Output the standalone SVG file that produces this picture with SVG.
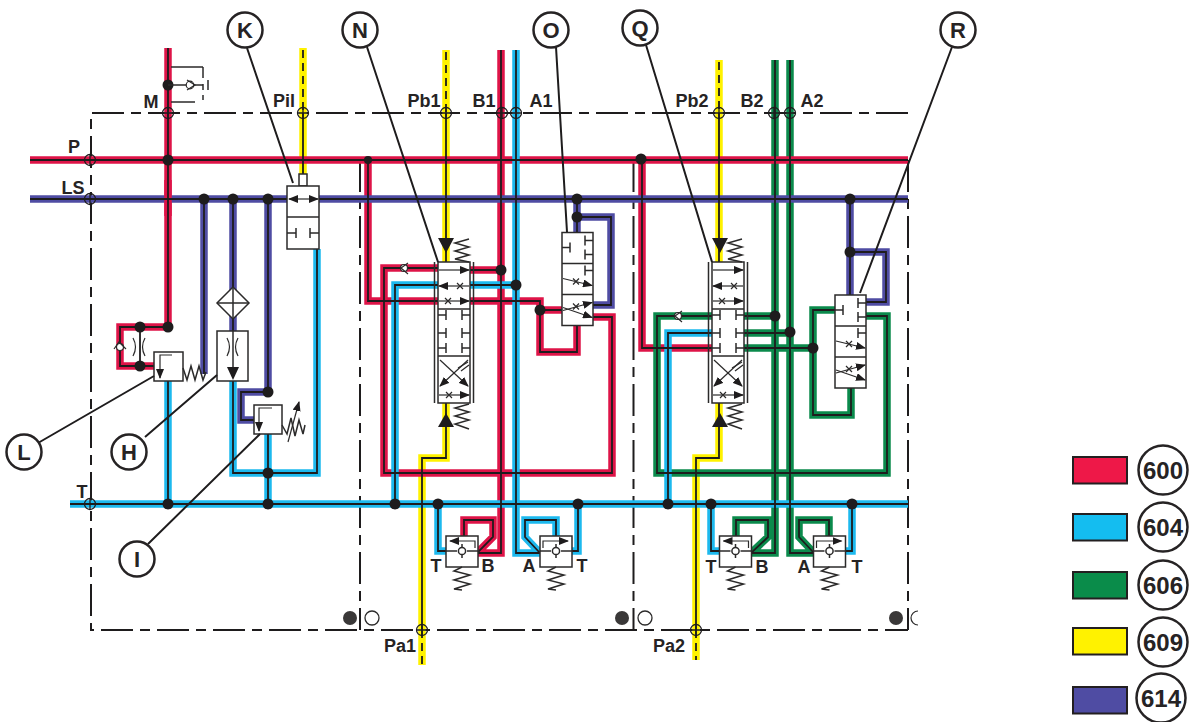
<svg xmlns="http://www.w3.org/2000/svg" xmlns:xlink="http://www.w3.org/1999/xlink" width="1190" height="722" viewBox="0 0 1190 722">
<style>
text{font-family:"Liberation Sans",Arial,sans-serif;font-weight:bold;fill:#262324}
.lab{font-size:18px;text-anchor:middle}
.call{font-size:22px;text-anchor:middle}
.leg{font-size:24px;text-anchor:middle}
.pipe{fill:none;stroke-width:7.5;stroke-linejoin:miter}
.red{stroke:#de1448}.cyan{stroke:#1db9ee}.green{stroke:#0b8a4c}.yellow{stroke:#fff200}.blue{stroke:#4f4ca3}
.core{fill:none;stroke:#1e1c1d;stroke-width:1.8}
.dash{fill:none;stroke:#1e1c1d;stroke-width:1.8;stroke-dasharray:8 5}
.frame{fill:none;stroke:#1e1c1d;stroke-width:2;stroke-dasharray:32 7 10 7}
.box{fill:#fff;stroke:#2b2a2a;stroke-width:1.5}
.ln{fill:none;stroke:#2b2a2a;stroke-width:1.5}
.thin{fill:none;stroke:#2b2a2a;stroke-width:1.2}
.dot{fill:#1e1c1d}
.port{fill:none;stroke:#1e1c1d;stroke-width:1.3}
.cc{fill:#fff;stroke:#262324;stroke-width:2.5}
.lead{fill:none;stroke:#1e1c1d;stroke-width:2}
.swatch{stroke:#231f20;stroke-width:2}
</style>
<defs>
<marker id="ah" viewBox="0 0 10 8" refX="9" refY="4" markerWidth="10" markerHeight="8" markerUnits="userSpaceOnUse" orient="auto-start-reverse"><path d="M0 0L10 4L0 8Z" fill="#1e1c1d"/></marker>
<path id="red2" d="M642 160V348H712"/>
<path id="yellow" d="M303 48V174M446 50V262M446 403V458H422V665M719 60V262M719 403V458H696V660"/>
<path id="green" d="M743 316H775M743 333H790M743 348H813M775 60V553H751L768 537V520H736V536M790 60V553H814L799 537V520H829V536M712 316H657V473H887V316H866M813 348V310H835M813 348V415H851V388"/>
<path id="redmain" d="M168 48V327M168 327H120V366H154M30 160H908M368 160V301H438M470 301H540V352H577V326M540 310H562M593 317H612V473H384V268H438M470 270H501M501 50V553H477L493 537V520H464V536"/>
<path id="cyanv" d="M168 381V504M233 381V473H317V249M268 434V504M395 504V285H438M470 285H516M516 50V553H540L525 537V520H556V536M438 504V551H446M578 504V551H572M668 504V333H712M711 504V551H719M852 504V551H845"/>
<path id="blue" d="M30 199H908M204 199V374M233 199V331M268 199V392H241V420H254M577 199V232M577 217H611V305H593M850 199V295M850 252H886V302H866"/>
<path id="cyant" d="M70 504H908"/>
<g id="cross"><path class="thin" d="M-3 -3L3 3M-3 3L3 -3"/></g>
<g id="spool">
<path class="ln" d="M-3.5 0V141M35.5 0V141"/>
<rect class="box" x="0" y="0" width="32" height="141"/>
<path class="ln" d="M0 47H32M0 94H32"/>
<path class="thin" marker-end="url(#ah)" d="M1 8H31"/>
<path class="thin" marker-end="url(#ah)" d="M31 24H1"/>
<path class="thin" marker-end="url(#ah)" d="M1 39H31"/>
<use href="#cross" x="22" y="24"/><use href="#cross" x="10" y="39"/>
<path class="ln" d="M0 53H8M8 48V58M32 53H24M24 48V58M0 71H8M8 66V76M32 71H24M24 66V76M0 86H8M8 81V91M32 86H24M24 81V91"/>
<path class="thin" marker-end="url(#ah)" d="M30 98L2 124"/>
<path class="thin" marker-end="url(#ah)" d="M2 98L30 124"/>
<path class="thin" d="M20 106L30 100M23 109L31 103"/>
<path class="thin" marker-end="url(#ah)" d="M1 133H31"/>
<use href="#cross" x="11" y="133"/>
</g>
<g id="aux">
<rect class="box" x="0" y="0" width="31" height="93"/>
<path class="ln" d="M0 31H31M0 62H31"/>
<path class="ln" d="M0 15H8M8 10V20M31 8H23M23 3V13M31 22H23M23 17V27M31 38H23M23 33V43"/>
<path class="thin" marker-end="url(#ah)" d="M1 46L30 53"/><use href="#cross" x="14" y="49"/>
<path class="thin" marker-end="url(#ah)" d="M1 78L30 70"/>
<path class="thin" marker-end="url(#ah)" d="M1 75L30 85"/><use href="#cross" x="14" y="74"/>
</g>
<g id="reliefB">
<rect class="box" x="0" y="0" width="32" height="31"/>
<path class="thin" marker-end="url(#ah)" d="M29 12V5H4"/>
<path class="ln" d="M0 15H11M21 15H32"/>
<circle class="box" cx="16" cy="15" r="3.6"/>
<path class="ln" d="M16 8V11M16 19V22"/>
<polyline class="ln" points="16,31 8,35 24,39 8,44 24,48 8,53 16,54"/>
</g>
<g id="reliefA">
<rect class="box" x="0" y="0" width="32" height="31"/>
<path class="thin" marker-end="url(#ah)" d="M3 12V5H28"/>
<path class="ln" d="M0 15H11M21 15H32"/>
<circle class="box" cx="16" cy="15" r="3.6"/>
<path class="ln" d="M16 8V11M16 19V22"/>
<polyline class="ln" points="16,31 8,35 24,39 8,44 24,48 8,53 16,54"/>
</g>
<g id="port"><circle class="port" r="5.5"/><path class="port" d="M-5.5 0H5.5M0 -5.5V5.5"/></g>
</defs>
<rect width="1190" height="722" fill="#fff"/>
<g id="frame">
<path class="frame" d="M908 113H91V630H908"/>
<path class="frame" d="M360 160V630M633.500 160V630M908 160V630"/>
</g>
<g id="connectors">
<use href="#red2" class="pipe red"/>
<use href="#yellow" class="pipe yellow"/>
<use href="#green" class="pipe green"/>
<use href="#redmain" class="pipe red"/>
<use href="#cyanv" class="pipe cyan"/>
<use href="#blue" class="pipe blue"/>
<use href="#cyant" class="pipe cyan"/>
<path class="pipe red" d="M168 180V216"/>
<use href="#red2" class="core"/>
<use href="#green" class="core"/>
<use href="#redmain" class="core"/>
<use href="#cyanv" class="core"/>
<use href="#blue" class="core"/>
<use href="#cyant" class="core"/>
<path class="core" d="M303 113V174M446 113V262M446 403V458H422V630M719 113V262M719 403V458H696V630"/>
<path class="dash" d="M303 50V113M446 52V113M719 62V113M422 630V665M696 630V660"/>
<path class="core" d="M140 327V366"/>
<g class="dot">
<circle cx="168" cy="85" r="5.500"/><circle cx="168" cy="160" r="5.500"/><circle cx="204" cy="199" r="5.500"/><circle cx="233" cy="199" r="5.500"/><circle cx="268" cy="199" r="5.500"/>
<circle cx="140" cy="327" r="5.500"/><circle cx="168" cy="327" r="5.500"/><circle cx="140" cy="366" r="5.500"/><circle cx="268" cy="392" r="5.500"/><circle cx="268" cy="473" r="5.500"/><circle cx="168" cy="504" r="5.500"/><circle cx="268" cy="504" r="5.500"/>
<circle cx="368" cy="160" r="4"/><circle cx="641" cy="159" r="5.500"/>
<circle cx="501" cy="270" r="5.500"/><circle cx="516" cy="285" r="5.500"/><circle cx="540" cy="310" r="5.500"/><circle cx="577" cy="199" r="5.500"/><circle cx="577" cy="217" r="5.500"/>
<circle cx="395" cy="504" r="5.500"/><circle cx="438" cy="504" r="5.500"/><circle cx="578" cy="504" r="5.500"/>
<circle cx="775" cy="316" r="5.500"/><circle cx="790" cy="332" r="5.500"/><circle cx="813" cy="348" r="5.500"/><circle cx="850" cy="199" r="5.500"/><circle cx="850" cy="252" r="5.500"/>
<circle cx="668" cy="504" r="5.500"/><circle cx="711" cy="504" r="5.500"/><circle cx="852" cy="504" r="5.500"/>
</g>
<use href="#port" x="168" y="113"/><use href="#port" x="303" y="113"/><use href="#port" x="90" y="160"/><use href="#port" x="90" y="199"/><use href="#port" x="90" y="504"/><use href="#port" x="446" y="113"/><use href="#port" x="502" y="113"/><use href="#port" x="516" y="113"/><use href="#port" x="719" y="113"/><use href="#port" x="774" y="113"/><use href="#port" x="790" y="113"/><use href="#port" x="422" y="630"/><use href="#port" x="696" y="630"/>
</g>
<g id="node-gauge">
<path class="ln" d="M171 67H203M203 67V78M203 84V90M203 95V100M171 102H195M168 85H203M208 80V90"/>
<circle cx="190" cy="85" r="3.800" fill="#fff" stroke="#2b2a2a" stroke-width="1.200"/>
<path class="thin" d="M187 80L195 85L187 90"/>
</g>
<g id="node-K">
<rect class="box" x="299" y="174" width="8" height="12"/>
<rect class="box" x="287" y="186" width="32" height="63"/>
<path class="ln" d="M287 217H319M287 233H296M296 228V238M319 233H310M310 228V238"/>
<path class="thin" marker-end="url(#ah)" d="M303 199H289"/>
<path class="thin" marker-end="url(#ah)" d="M303 199H318"/>
</g>
<g id="node-L">
<path class="thin" d="M133 338Q138 347 133 356M145 338Q140 347 145 356"/>
<circle cx="120" cy="347" r="3.500" fill="#fff" stroke="#2b2a2a" stroke-width="1.200"/>
<path class="thin" d="M114 349L119 342L126 349"/>
<rect class="box" x="154" y="352" width="29" height="29"/>
<path class="thin" marker-end="url(#ah)" d="M172 355H160V378"/>
<polyline class="ln" points="183,368 187,380 191,366 195,380 199,366 203,380 206,372"/>
</g>
<g id="node-H">
<rect class="box" x="217" y="331" width="31" height="50"/>
<path class="thin" d="M227 338Q232 347 227 356M238 338Q233 347 238 356"/>
<path class="ln" d="M233 331V370"/>
<path class="dot" d="M227 367H239L233 380Z"/>
<path class="box" d="M233 287L249 303L233 319L217 303Z"/>
<path class="ln" d="M217 303H249M233 287V319"/>
</g>
<g id="node-I">
<rect class="box" x="254" y="405" width="28" height="29"/>
<path class="thin" marker-end="url(#ah)" d="M272 408H259V431"/>
<polyline class="ln" points="282,425 287,434 291,418 295,436 299,420 303,434 305,425"/>
<path class="thin" marker-end="url(#ah)" d="M288 442L299 402"/>
</g>
<g id="node-N">
<use href="#spool" x="438" y="262"/>
<path class="dot" d="M438 238H454L446 253Z"/>
<path class="dot" d="M438 427H454L446 413Z"/>
<polyline class="ln" points="469,239 455,243 469,247 455,251 469,255 455,259 469,262"/>
<polyline class="ln" points="469,404 455,408 469,412 455,416 469,420 455,424 469,429"/>
<circle cx="404" cy="268" r="3.500" fill="#fff" stroke="#2b2a2a" stroke-width="1.200"/>
<path class="thin" d="M408 263L401 268L408 274"/>
</g>
<g id="node-O"><use href="#aux" x="562" y="232.500"/></g>
<g id="node-Q">
<use href="#spool" x="712" y="262"/>
<path class="dot" d="M712 238H728L720 253Z"/>
<path class="dot" d="M712 427H728L720 413Z"/>
<polyline class="ln" points="742,239 728,243 742,247 728,251 742,255 728,259 742,262"/>
<polyline class="ln" points="742,404 728,408 742,412 728,416 742,420 728,424 742,429"/>
<circle cx="678" cy="316" r="3.500" fill="#fff" stroke="#2b2a2a" stroke-width="1.200"/>
<path class="thin" d="M682 311L675 316L682 322"/>
</g>
<g id="node-R"><use href="#aux" x="835" y="295"/></g>
<g id="node-reliefs">
<use href="#reliefB" x="446" y="536"/>
<use href="#reliefA" x="540" y="536"/>
<use href="#reliefB" x="719.500" y="536"/>
<use href="#reliefA" x="813.500" y="536"/>
</g>
<g id="node-plugs">
<circle cx="350" cy="618" r="7" fill="#3a3838"/><circle cx="372" cy="618" r="7" fill="#fff" stroke="#2b2a2a" stroke-width="1.300"/>
<circle cx="622" cy="618" r="7" fill="#3a3838"/><circle cx="645" cy="618" r="7" fill="#fff" stroke="#2b2a2a" stroke-width="1.300"/>
<circle cx="896" cy="618" r="7" fill="#3a3838"/><path class="thin" d="M918 611A7 7 0 0 0 918 625"/>
</g>
<g id="labels">
<text class="lab" x="151" y="108">M</text><text class="lab" x="284" y="107">Pil</text><text class="lab" x="74" y="153">P</text><text class="lab" x="73" y="194">LS</text><text class="lab" x="82" y="498">T</text>
<text class="lab" x="424" y="107">Pb1</text><text class="lab" x="484" y="107">B1</text><text class="lab" x="541" y="107">A1</text><text class="lab" x="692" y="107">Pb2</text><text class="lab" x="752" y="107">B2</text><text class="lab" x="812" y="107">A2</text>
<text class="lab" x="400" y="652">Pa1</text><text class="lab" x="669" y="652">Pa2</text>
<text class="lab" x="436" y="572">T</text><text class="lab" x="488" y="572">B</text><text class="lab" x="529" y="572">A</text><text class="lab" x="582" y="572">T</text>
<text class="lab" x="711" y="573">T</text><text class="lab" x="762" y="573">B</text><text class="lab" x="804" y="573">A</text><text class="lab" x="857" y="573">T</text>
</g>
<g id="callouts">
<path class="lead" d="M247 48L293 183M367 47L438 262M556 47L567 232M646 45L712 262M952 47L860 293M38 443L154 376M145 437L217 375M148 544L260 434"/>
<g id="call-K"><circle class="cc" cx="245" cy="30" r="17.500"/><text class="call" x="245" y="38">K</text></g>
<g id="call-N"><circle class="cc" cx="360" cy="30" r="17.500"/><text class="call" x="360" y="38">N</text></g>
<g id="call-O"><circle class="cc" cx="551" cy="30" r="17.500"/><text class="call" x="551" y="38">O</text></g>
<g id="call-Q"><circle class="cc" cx="640" cy="28" r="17.500"/><text class="call" x="640" y="36">Q</text></g>
<g id="call-R"><circle class="cc" cx="958" cy="30" r="17.500"/><text class="call" x="958" y="38">R</text></g>
<g id="call-L"><circle class="cc" cx="24" cy="452" r="17.500"/><text class="call" x="24" y="460">L</text></g>
<g id="call-H"><circle class="cc" cx="129" cy="452" r="17.500"/><text class="call" x="129" y="460">H</text></g>
<g id="call-I"><circle class="cc" cx="137" cy="559" r="17.500"/><text class="call" x="137" y="567">I</text></g>
</g>
<g id="legend">
<g id="leg-600"><rect class="swatch" x="1073" y="457" width="54" height="26.500" fill="#ee1848"/><circle class="cc" cx="1163" cy="470" r="24.500"/><text class="leg" x="1163" y="478.500">600</text></g>
<g id="leg-604"><rect class="swatch" x="1073" y="514" width="54" height="26.500" fill="#14bdf0"/><circle class="cc" cx="1163" cy="527" r="24.500"/><text class="leg" x="1163" y="535.500">604</text></g>
<g id="leg-606"><rect class="swatch" x="1073" y="572" width="54" height="26.500" fill="#0a8c4a"/><circle class="cc" cx="1163" cy="585" r="24.500"/><text class="leg" x="1163" y="593.500">606</text></g>
<g id="leg-609"><rect class="swatch" x="1073" y="628" width="54" height="26.500" fill="#fff200"/><circle class="cc" cx="1163" cy="642" r="24.500"/><text class="leg" x="1163" y="650.500">609</text></g>
<g id="leg-614"><rect class="swatch" x="1073" y="687" width="54" height="26.500" fill="#4f4ca3"/><circle class="cc" cx="1161" cy="698" r="24.500"/><text class="leg" x="1161" y="706.500">614</text></g>
</g>
</svg>
